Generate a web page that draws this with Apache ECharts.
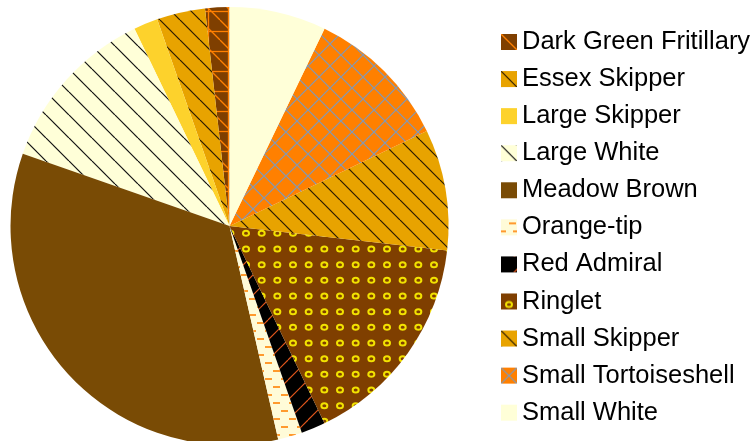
<!DOCTYPE html>
<html>
<head>
<meta charset="utf-8">
<script src="https://cdn.jsdelivr.net/npm/echarts@6/dist/echarts.min.js"></script>
<style>
  html, body { margin: 0; padding: 0; background: #ffffff; }
  #chart { width: 753px; height: 441px; }
</style>
</head>
<body>
<div id="chart"></div>
<script>
// Butterfly sightings by species
const species = [
  'Dark Green Fritillary', 'Essex Skipper', 'Large Skipper', 'Large White',
  'Meadow Brown', 'Orange-tip', 'Red Admiral', 'Ringlet',
  'Small Skipper', 'Small Tortoiseshell', 'Small White'
];
const counts = [1, 2, 1, 7, 19, 1, 1, 9, 5, 6, 4];

// ---- fill tiles ----
function tile(w, h, draw) {
  const c = document.createElement('canvas');
  c.width = w; c.height = h;
  const ctx = c.getContext('2d');
  draw(ctx, w, h);
  return { image: c, repeat: 'repeat' };
}
function bg(ctx, w, h, col) { ctx.fillStyle = col; ctx.fillRect(0, 0, w, h); }
function line(ctx, x1, y1, x2, y2, col, lw) {
  ctx.strokeStyle = col; ctx.lineWidth = lw;
  ctx.beginPath(); ctx.moveTo(x1, y1); ctx.lineTo(x2, y2); ctx.stroke();
}
// diagonal lines running top-left to bottom-right (x - y = k mod s)
function downDiag(ctx, s, k, col, lw) {
  for (let o = -2 * s; o <= 2 * s; o += s) line(ctx, k + o, 0, k + o + s, s, col, lw);
}
// diagonal lines running bottom-left to top-right (x + y = k mod s)
function upDiag(ctx, s, k, col, lw) {
  for (let o = -2 * s; o <= 2 * s; o += s) line(ctx, k + o, 0, k + o - s, s, col, lw);
}

const PALE = '#FFFFD8';
const GOLD = '#E8A300';
const RUST = '#7F3F00';

const fills = {
  'Dark Green Fritillary': tile(20, 20, (c, w, h) => {
    bg(c, w, h, RUST);
    line(c, 0, 11.5, w, 11.5, '#FF8000', 1.3);
    line(c, 8.5, 0, 8.5, h, '#FF8000', 1.3);
    downDiag(c, 20, 0, '#FF8000', 1.3);
  }),
  'Essex Skipper': tile(20, 20, (c, w, h) => { bg(c, w, h, GOLD); downDiag(c, 20, 0, '#2a1a00', 1.2); }),
  'Large Skipper': '#FDD22C',
  'Large White': tile(23, 23, (c, w, h) => { bg(c, w, h, PALE); downDiag(c, 23, 0, '#111111', 1.2); }),
  'Meadow Brown': '#794B05',
  'Orange-tip': tile(16, 16, (c, w, h) => {
    bg(c, w, h, '#FFFBD8');
    c.fillStyle = '#FF9A2E';
    c.fillRect(1, 2, 7, 2);
    c.fillRect(9, 10, 7, 2);
  }),
  'Red Admiral': tile(20, 20, (c, w, h) => { bg(c, w, h, '#000000'); upDiag(c, 20, 8, '#E0561C', 1.2); }),
  'Ringlet': tile(47, 47, (c, w, h) => {
    bg(c, w, h, RUST);
    c.strokeStyle = '#F2E200'; c.lineWidth = 2;
    const xs = [11, 26.67, 42.33], ys = [14, 29.67, 45.33 - 47];
    for (const x of xs) for (const y0 of ys) for (const y of [y0, y0 + 47]) {
      c.beginPath(); c.ellipse(x, y, 3, 2.5, 0, 0, Math.PI * 2); c.stroke();
    }
  }),
  'Small Skipper': tile(20, 20, (c, w, h) => { bg(c, w, h, GOLD); downDiag(c, 20, 0, '#2a1a00', 1.2); }),
  'Small Tortoiseshell': tile(22, 22, (c, w, h) => {
    bg(c, w, h, '#FF8000');
    downDiag(c, 22, 0, '#8099B8', 1.2);
    upDiag(c, 22, 0, '#8099B8', 1.2);
  }),
  'Small White': PALE
};

// legend swatches
const swatches = {
  'Dark Green Fritillary': tile(16, 16, (c, w, h) => { bg(c, w, h, RUST); line(c, 0, 0, 16, 16, '#FF8000', 1.3); }),
  'Essex Skipper': tile(16, 16, (c, w, h) => { bg(c, w, h, GOLD); line(c, 0, 0, 16, 16, '#2a1a00', 1.2); }),
  'Large Skipper': '#FDD22C',
  'Large White': tile(16, 16, (c, w, h) => { bg(c, w, h, PALE); line(c, 0, 0, 16, 16, '#111111', 1.2); }),
  'Meadow Brown': '#794B05',
  'Orange-tip': tile(16, 16, (c, w, h) => {
    bg(c, w, h, '#FFFBD8');
    c.fillStyle = '#FF9A2E';
    c.fillRect(8, 3, 7, 2); c.fillRect(0, 11, 5, 2); c.fillRect(12, 11, 4, 2);
  }),
  'Red Admiral': tile(16, 16, (c, w, h) => { bg(c, w, h, '#000000'); line(c, 12, 17, 17, 12, '#E0561C', 1.3); }),
  'Ringlet': tile(16, 16, (c, w, h) => {
    bg(c, w, h, RUST);
    c.strokeStyle = '#F2E200'; c.lineWidth = 2;
    c.beginPath(); c.ellipse(8, 11, 3, 2.5, 0, 0, Math.PI * 2); c.stroke();
  }),
  'Small Skipper': tile(16, 16, (c, w, h) => { bg(c, w, h, GOLD); line(c, 0, 0, 16, 16, '#2a1a00', 1.2); }),
  'Small Tortoiseshell': tile(16, 16, (c, w, h) => {
    bg(c, w, h, '#FF8000');
    line(c, 0, 0, 16, 16, '#8099B8', 1.2); line(c, 0, 16, 16, 0, '#8099B8', 1.2);
  }),
  'Small White': PALE
};

const chart = echarts.init(document.getElementById('chart'), null, { renderer: 'canvas' });
chart.setOption({
  animation: false,
  backgroundColor: '#ffffff',
  legend: {
    orient: 'vertical',
    left: 496,
    top: 24,
    itemWidth: 16,
    itemHeight: 16,
    itemGap: 11.07,
    icon: 'rect',
    selectedMode: false,
    textStyle: { fontFamily: 'Liberation Sans', fontSize: 25.5, lineHeight: 26, color: '#000000' },
    data: species.map(n => ({ name: n, itemStyle: { color: swatches[n], borderWidth: 0 } }))
  },
  series: [{
    type: 'pie',
    center: [229.5, 226],
    radius: 219,
    startAngle: 90,
    clockwise: false,
    avoidLabelOverlap: false,
    label: { show: false },
    labelLine: { show: false },
    emphasis: { disabled: true },
    itemStyle: { borderWidth: 0 },
    data: species.map((n, i) => ({ name: n, value: counts[i], itemStyle: { color: fills[n] } }))
  }]
});
</script>
</body>
</html>
